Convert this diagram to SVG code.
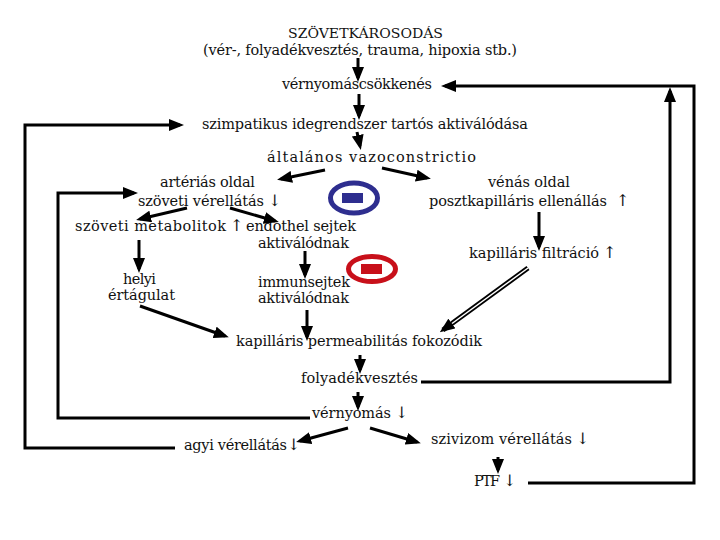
<svg xmlns="http://www.w3.org/2000/svg" width="720" height="540" viewBox="0 0 720 540">
<defs>
<style>
text{font-family:"DejaVu Serif","Liberation Serif",serif;font-size:14.5px;fill:#111}
.ar{font-size:16px}
.c{stroke:#000;stroke-width:3;fill:none}
.a{stroke:#000;stroke-width:3;fill:none;marker-end:url(#ah)}
</style>
<marker id="ah" markerWidth="15" markerHeight="12" refX="11" refY="6" orient="auto" markerUnits="userSpaceOnUse"><path d="M0,0 L15,6 L0,12 z" fill="#000"/></marker>
</defs>
<rect width="720" height="540" fill="#fff"/>

<g id="n1"><text x="288" y="38" textLength="155" lengthAdjust="spacingAndGlyphs" style="font-size:13.5px">SZÖVETKÁROSODÁS</text><text x="203" y="55" textLength="314" lengthAdjust="spacing">(vér-, folyadékvesztés, trauma, hipoxia stb.)</text></g>
<g id="n2"><text x="282" y="89" textLength="150" lengthAdjust="spacing">vérnyomáscsökkenés</text></g>
<g id="n3"><text x="202" y="129" textLength="326" lengthAdjust="spacing">szimpatikus idegrendszer tartós aktiválódása</text></g>
<g id="n4"><text x="267" y="162" textLength="209" lengthAdjust="spacing">általános vazoconstrictio</text></g>
<g id="n5"><text x="160" y="187" textLength="95" lengthAdjust="spacing">artériás oldal</text><text x="138" y="206" textLength="126" lengthAdjust="spacing">szöveti vérellátás</text><text class="ar" x="268" y="206">↓</text></g>
<g id="n6"><text x="488" y="187" textLength="82" lengthAdjust="spacing">vénás oldal</text><text x="429" y="206" textLength="178" lengthAdjust="spacing">posztkapilláris ellenállás</text><text class="ar" x="616" y="206">↑</text></g>
<g id="n7"><text x="75" y="231" textLength="151" lengthAdjust="spacing">szöveti metabolitok</text><text class="ar" x="230" y="231">↑</text></g>
<g id="n8"><text x="246" y="231" textLength="110" lengthAdjust="spacing">endothel sejtek</text><text x="258" y="248" textLength="91" lengthAdjust="spacing">aktiválódnak</text></g>
<g id="n9"><text x="469" y="258" textLength="130" lengthAdjust="spacing">kapilláris filtráció</text><text class="ar" x="603" y="258">↑</text></g>
<g id="n10"><text x="123" y="284" textLength="33" lengthAdjust="spacing">helyi</text><text x="108" y="300" textLength="67" lengthAdjust="spacing">értágulat</text></g>
<g id="n11"><text x="258" y="287" textLength="92" lengthAdjust="spacing">immunsejtek</text><text x="258" y="303" textLength="91" lengthAdjust="spacing">aktiválódnak</text></g>
<g id="n12"><text x="236" y="346" textLength="246" lengthAdjust="spacing">kapilláris permeabilitás fokozódik</text></g>
<g id="n13"><text x="301" y="383" textLength="117" lengthAdjust="spacing">folyadékvesztés</text></g>
<g id="n14"><text x="312" y="418" textLength="79" lengthAdjust="spacing">vérnyomás</text><text class="ar" x="395" y="418">↓</text></g>
<g id="n15"><text x="184" y="450" textLength="103" lengthAdjust="spacing">agyi vérellátás</text><text class="ar" x="287" y="450">↓</text></g>
<g id="n16"><text x="431" y="444" textLength="141" lengthAdjust="spacing">szivizom vérellátás</text><text class="ar" x="576" y="444">↓</text></g>
<g id="n17"><text x="474" y="486" textLength="26" lengthAdjust="spacing">PTF</text><text class="ar" x="503" y="486">↓</text></g>

<g id="minus-blue"><ellipse cx="354" cy="198" rx="23.5" ry="15" fill="none" stroke="#2e2e8f" stroke-width="5"/><rect x="342" y="193" width="21" height="10" fill="#2e2e8f"/></g>
<g id="minus-red"><ellipse cx="372" cy="269" rx="23.5" ry="12.5" fill="none" stroke="#c8101a" stroke-width="5"/><rect x="361" y="264" width="21" height="10" fill="#c8101a"/></g>

<g id="connectors">
<line class="a" x1="358" y1="58" x2="358" y2="78"/>
<line class="a" x1="359" y1="94" x2="359" y2="116"/>
<line class="a" x1="357" y1="132" x2="360" y2="146"/>
<line class="a" x1="325" y1="170" x2="281" y2="179"/>
<line class="a" x1="382" y1="168" x2="427" y2="178"/>
<line class="a" x1="187" y1="208" x2="140" y2="219"/>
<line class="a" x1="230" y1="208" x2="275" y2="221"/>
<line class="a" x1="539" y1="212" x2="539" y2="247"/>
<line class="a" x1="139" y1="240" x2="139" y2="269"/>
<line class="a" x1="305" y1="251" x2="305" y2="275"/>
<line class="a" x1="140" y1="306" x2="225" y2="336"/>
<line class="a" x1="307" y1="310" x2="307" y2="337"/>
<line class="a" x1="360" y1="355" x2="360" y2="370"/>
<line class="a" x1="358" y1="392" x2="358" y2="407"/>
<line class="a" x1="348" y1="428" x2="300" y2="441"/>
<line class="a" x1="370" y1="428" x2="417" y2="442"/>
<line class="a" x1="498" y1="457" x2="498" y2="470"/>
<line x1="528" y1="268" x2="443" y2="330" stroke="#000" stroke-width="5" marker-end="url(#ah)"/>
<line x1="528" y1="268" x2="452" y2="323.5" stroke="#fff" stroke-width="1.5"/>
<polyline class="a" points="175,448 25,448 25,125 180,125"/>
<polyline class="a" points="310,418 58,418 58,193 134,193"/>
<polyline class="a" points="421,382 670,382 670,91"/>
<polyline class="a" points="528,483 694,483 694,86 445,86"/>
</g>
</svg>
